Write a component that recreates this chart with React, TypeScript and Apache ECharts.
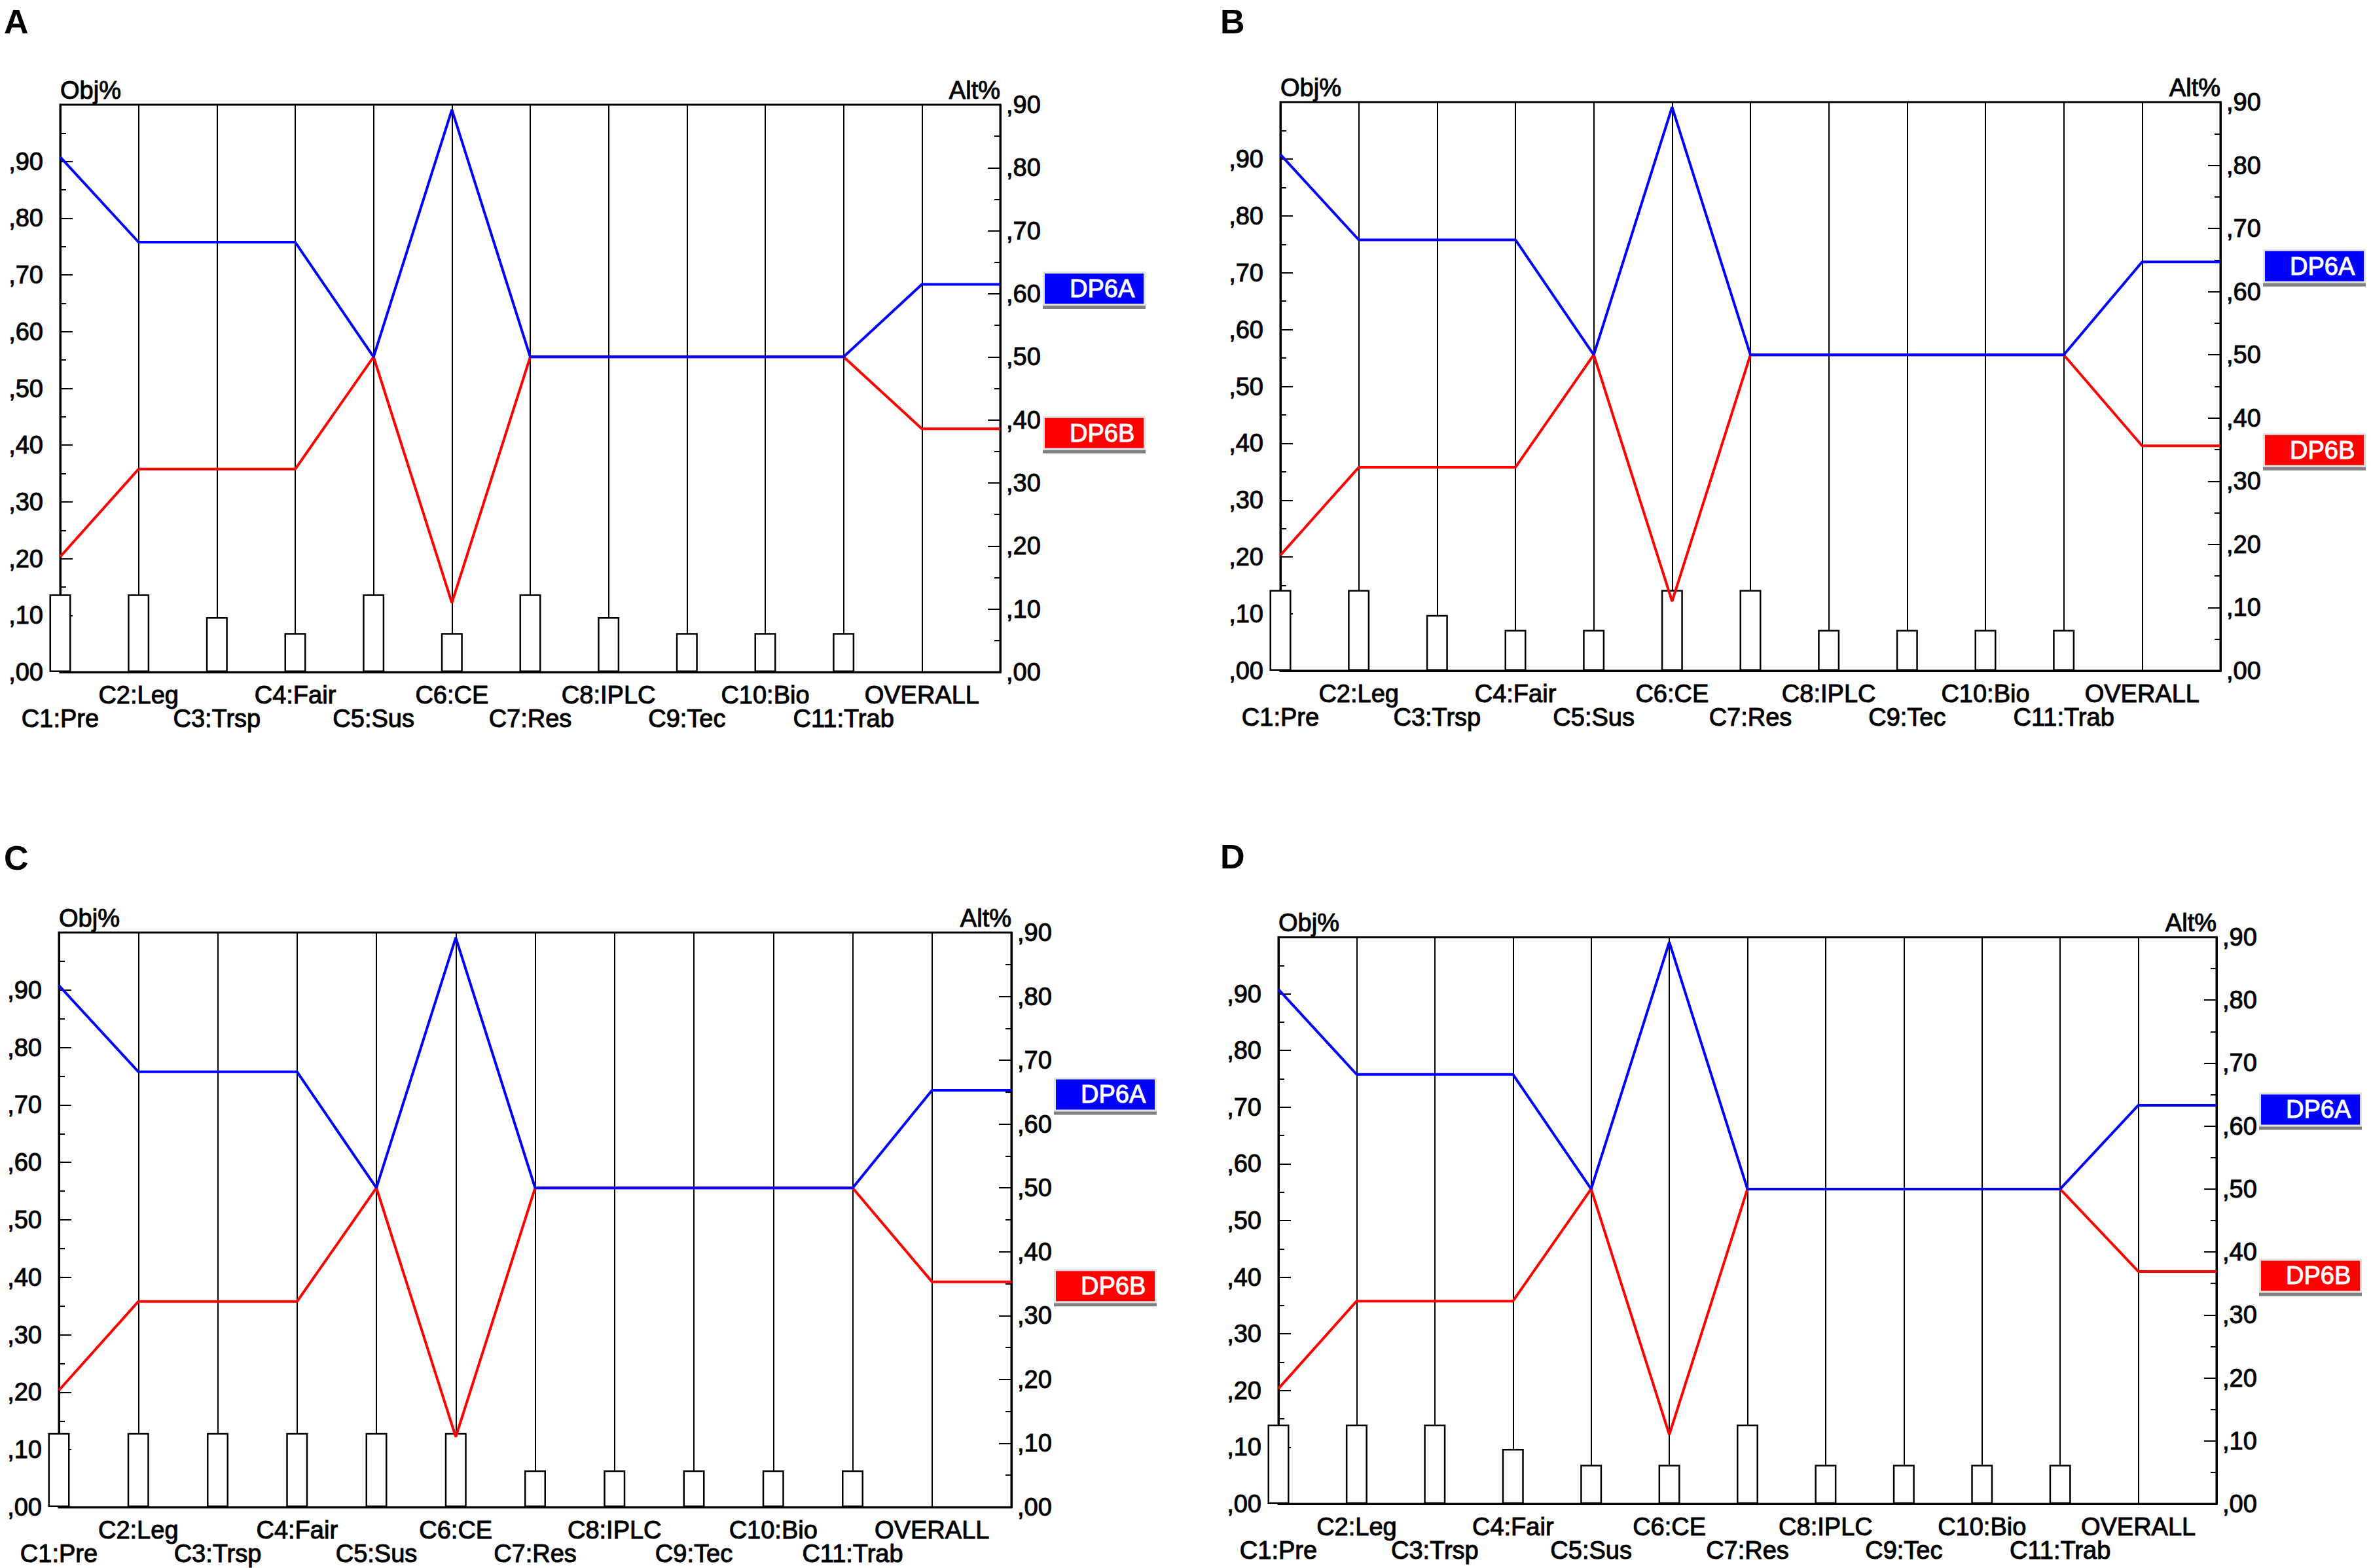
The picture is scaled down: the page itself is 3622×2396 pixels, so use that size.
import React, { useEffect, useRef } from "react";
import * as echarts from "echarts";

const FONT = "'Liberation Sans', Arial, sans-serif";

// ---- data ----
const categories = [
  "C1:Pre", "C2:Leg", "C3:Trsp", "C4:Fair", "C5:Sus", "C6:CE",
  "C7:Res", "C8:IPLC", "C9:Tec", "C10:Bio", "C11:Trab", "OVERALL",
];
const leftTickLabels = [",00", ",10", ",20", ",30", ",40", ",50", ",60", ",70", ",80", ",90"];
const rightTickLabels = [",00", ",10", ",20", ",30", ",40", ",50", ",60", ",70", ",80", ",90"];
const panelLetters = ["A", "B", "C", "D"];
const altNames = ["DP6A", "DP6B"];

// weights (Obj%) per criterion, C1..C11
const weightsA = [0.137, 0.137, 0.097, 0.069, 0.137, 0.069, 0.137, 0.097, 0.069, 0.069, 0.069];
const weightsB = [0.142, 0.142, 0.098, 0.072, 0.072, 0.142, 0.142, 0.072, 0.072, 0.072, 0.072];
const weightsC = [0.129, 0.129, 0.129, 0.129, 0.129, 0.129, 0.064, 0.064, 0.064, 0.064, 0.064];
const weightsD = [0.14, 0.14, 0.14, 0.097, 0.069, 0.069, 0.14, 0.069, 0.069, 0.069, 0.069];

// alternative scores (Alt%) C1..C11, OVERALL
const dp6aA = [0.817, 0.682, 0.682, 0.682, 0.5, 0.892, 0.5, 0.5, 0.5, 0.5, 0.5, 0.615];
const dp6bA = [0.183, 0.322, 0.322, 0.322, 0.5, 0.11, 0.5, 0.5, 0.5, 0.5, 0.5, 0.386];
const dp6aB = [0.817, 0.682, 0.682, 0.682, 0.5, 0.892, 0.5, 0.5, 0.5, 0.5, 0.5, 0.647];
const dp6bB = [0.183, 0.322, 0.322, 0.322, 0.5, 0.11, 0.5, 0.5, 0.5, 0.5, 0.5, 0.356];
const dp6aC = [0.817, 0.682, 0.682, 0.682, 0.5, 0.892, 0.5, 0.5, 0.5, 0.5, 0.5, 0.653];
const dp6bC = [0.183, 0.322, 0.322, 0.322, 0.5, 0.11, 0.5, 0.5, 0.5, 0.5, 0.5, 0.353];
const dp6aD = [0.817, 0.682, 0.682, 0.682, 0.5, 0.892, 0.5, 0.5, 0.5, 0.5, 0.5, 0.633];
const dp6bD = [0.183, 0.322, 0.322, 0.322, 0.5, 0.11, 0.5, 0.5, 0.5, 0.5, 0.5, 0.369];

const panelWeights = [weightsA, weightsB, weightsC, weightsD];
const panelDp6a = [dp6aA, dp6aB, dp6aC, dp6aD];
const panelDp6b = [dp6bA, dp6bB, dp6bC, dp6bD];

// ---- layout ----
const layouts = [
  { grid: { left: 92, top: 160, width: 1436, height: 867 }, title: [6, 33] },
  { grid: { left: 1956, top: 156, width: 1436, height: 869 }, title: [1864, 33] },
  { grid: { left: 90, top: 1425, width: 1455, height: 878 }, title: [6, 1311] },
  { grid: { left: 1953, top: 1432, width: 1433, height: 866 }, title: [1864, 1309] },
];

const TXT = { color: "#000", fontFamily: FONT, fontSize: 38, textBorderColor: "#000", textBorderWidth: 1 };

function lineData(values: number[]) {
  const pts: number[][] = values.map((v, i) => [i, v]);
  pts.push([categories.length, values[values.length - 1]]);
  return pts;
}

function endLabel(text: string, color: string) {
  return {
    show: true,
    distance: 68,
    padding: [13, 0, 0, 0],
    formatter: () => `{box|${text}}`,
    rich: {
      box: {
        backgroundColor: color,
        color: "#fff",
        textBorderColor: "#fff",
        textBorderWidth: 1,
        fontSize: 38,
        fontFamily: FONT,
        width: 113,
        height: 46,
        lineHeight: 46,
        padding: [0, 0, 0, 38],
        borderColor: "#e2e2e2",
        borderWidth: 3,
        shadowColor: "#808080",
        shadowOffsetY: 5,
        shadowOffsetX: 0,
        shadowBlur: 0,
      },
    },
  };
}

function catLabel(parity: number) {
  return (v: number) => {
    const k = Math.round(v);
    const c = categories[k];
    if (!c || k % 2 !== parity) return "";
    return c;
  };
}

function buildOption() {
  const grid: any[] = [];
  const xAxis: any[] = [];
  const yAxis: any[] = [];
  const series: any[] = [];
  const graphic: any[] = [];

  layouts.forEach((lay, i) => {
    grid.push({
      ...lay.grid,
      show: true,
      borderColor: "#000",
      borderWidth: 3,
      backgroundColor: "transparent",
    });
    // main x axis: vertical criterion lines + upper label row (C2, C4, ... OVERALL)
    xAxis.push({
      type: "value",
      gridIndex: i,
      position: "bottom",
      min: 0,
      max: categories.length,
      interval: 1,
      axisLine: { show: true, onZero: false, lineStyle: { color: "#000", width: 3 } },
      axisTick: { show: false },
      splitLine: { show: true, lineStyle: { color: "#000", width: 2 } },
      axisLabel: {
        margin: 17,
        showMinLabel: true,
        showMaxLabel: true,
        ...TXT,
        lineHeight: 36,
        formatter: catLabel(1),
      },
    });
    // secondary x axis: lower label row (C1, C3, ... C11)
    xAxis.push({
      type: "value",
      gridIndex: i,
      position: "bottom",
      min: 0,
      max: categories.length,
      interval: 1,
      axisLine: { show: false, onZero: false },
      axisTick: { show: false },
      splitLine: { show: false },
      axisLabel: {
        margin: 53,
        showMinLabel: true,
        showMaxLabel: true,
        ...TXT,
        lineHeight: 36,
        formatter: catLabel(0),
      },
    });
    const commonY = {
      type: "value",
      gridIndex: i,
      min: 0,
      interval: 0.1,
      nameLocation: "end",
      nameGap: 22,
      axisTick: { show: true, inside: true, length: 19, lineStyle: { color: "#000", width: 2 } },
      minorTick: { show: true, splitNumber: 2, length: 9, lineStyle: { color: "#000", width: 2 } },
      splitLine: { show: false },
    };
    yAxis.push({
      ...commonY,
      position: "left",
      max: 1,
      name: "Obj%",
      axisLine: { show: true, onZero: false, lineStyle: { color: "#000", width: 3 } },
      nameTextStyle: { ...TXT, align: "left", verticalAlign: "middle" },
      axisLabel: {
        margin: 26,
        ...TXT,
        formatter: (v: number) => leftTickLabels[Math.round(v * 10)] ?? "",
      },
    });
    yAxis.push({
      ...commonY,
      position: "right",
      max: 0.9,
      name: "Alt%",
      axisLine: { show: true, onZero: false, lineStyle: { color: "#000", width: 3 } },
      nameTextStyle: { ...TXT, align: "right", verticalAlign: "middle" },
      axisLabel: {
        margin: 9,
        ...TXT,
        formatter: (v: number) => rightTickLabels[Math.round(v * 10)] ?? "",
      },
    });

    series.push({
      type: "bar",
      xAxisIndex: 2 * i,
      yAxisIndex: 2 * i,
      data: panelWeights[i].map((w, k) => [k, w]),
      barWidth: 33,
      clip: false,
      z: 3,
      itemStyle: { color: "#fff", borderColor: "#000", borderWidth: 2.5 },
    });
    series.push({
      type: "line",
      name: altNames[1],
      xAxisIndex: 2 * i,
      yAxisIndex: 2 * i + 1,
      data: lineData(panelDp6b[i]),
      symbol: "none",
      clip: false,
      z: 4,
      lineStyle: { color: "#ff0000", width: 4 },
      itemStyle: { color: "#ff0000" },
      endLabel: endLabel(altNames[1], "#ff0000"),
    });
    series.push({
      type: "line",
      name: altNames[0],
      xAxisIndex: 2 * i,
      yAxisIndex: 2 * i + 1,
      data: lineData(panelDp6a[i]),
      symbol: "none",
      clip: false,
      z: 5,
      lineStyle: { color: "#0000ff", width: 4 },
      itemStyle: { color: "#0000ff" },
      endLabel: endLabel(altNames[0], "#0000ff"),
    });

    graphic.push({
      type: "text",
      x: lay.title[0],
      y: lay.title[1],
      style: {
        text: panelLetters[i],
        fontSize: 52,
        fontWeight: "bold",
        fontFamily: FONT,
        fill: "#000",
        align: "left",
        verticalAlign: "middle",
      },
    });
  });

  return {
    animation: false,
    backgroundColor: "#fff",
    textStyle: { fontFamily: FONT },
    grid,
    xAxis,
    yAxis,
    series,
    graphic,
  };
}

export default function App() {
  const ref = useRef<HTMLDivElement>(null);
  useEffect(() => {
    if (!ref.current) return;
    const chart = echarts.init(ref.current, null, { renderer: "svg" });
    chart.setOption(buildOption() as any);
    return () => chart.dispose();
  }, []);
  return (
    <div
      ref={ref}
      style={{ position: "absolute", left: 0, top: 0, width: 3622, height: 2396, background: "#fff" }}
    />
  );
}
